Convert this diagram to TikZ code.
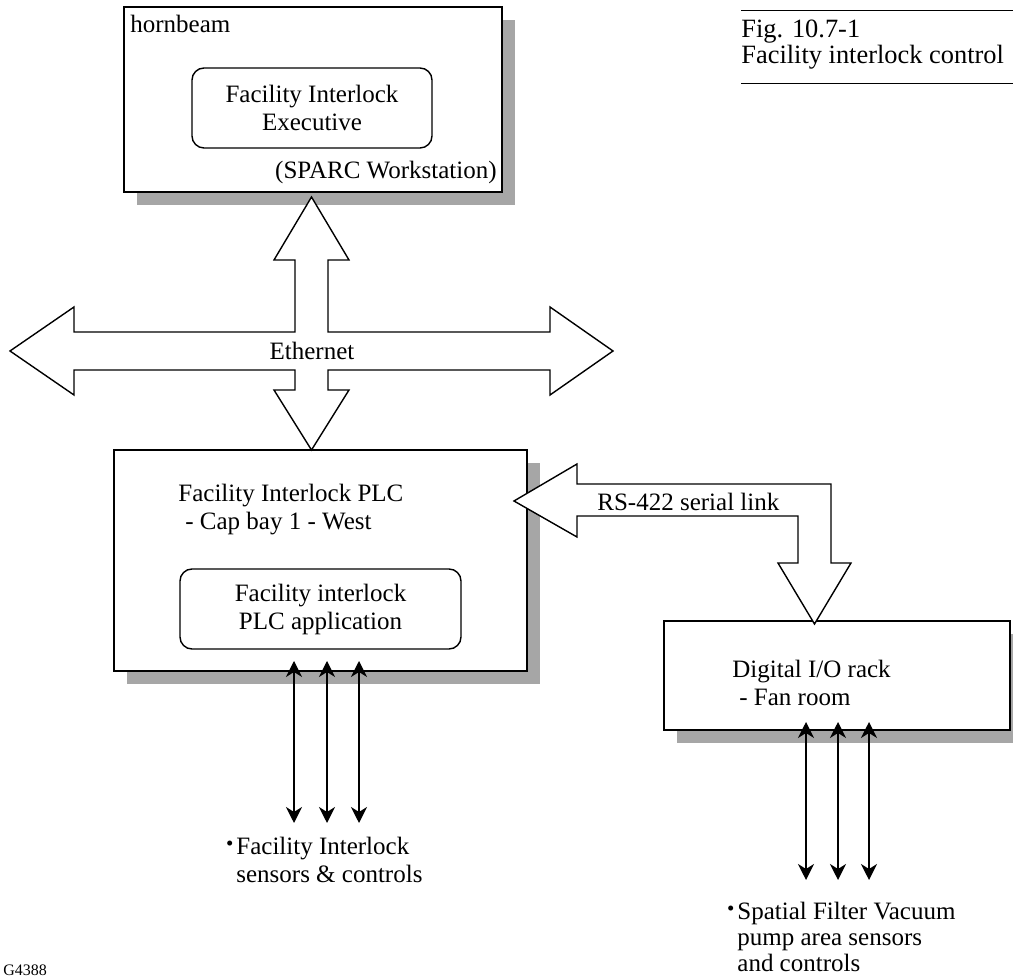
\documentclass[tikz,border=0pt]{standalone}
\usepackage{fontspec}
\setmainfont{Liberation Serif}
\usetikzlibrary{arrows.meta,shadows}

\newcommand{\blt}{\leavevmode\llap{\raisebox{0.15em}{\fontsize{10.5}{10.5}\selectfont\textbullet}\hspace{1.5pt}}}

\begin{document}
\begin{tikzpicture}[x=0.5pt,y=-0.5pt,
	every node/.style={font=\fontsize{12.5}{14}\selectfont},
	box/.style={rectangle,draw,line width=0.7pt,fill=white,
		drop shadow={shadow xshift=6.5pt,shadow yshift=-6.5pt,fill=black!35,opacity=1}},
	rbox/.style={rectangle,draw,line width=0.7pt,rounded corners=6pt,align=center},
	lbl/.style={inner sep=0pt,align=left},
	fat/.style={draw,line width=0.7pt,fill=white},
	sig/.style={line width=0.7pt,>={Stealth[length=8pt,width=8pt,inset=2.5pt]},<->}]

		\useasboundingbox (0,0) rectangle (1013,977);

		% workstation
		\node[box,minimum width=189pt,minimum height=92.5pt] (host) at (313,99.5) {};
		\node[anchor=base west,inner sep=0pt] (hostname) at (130,33) {hornbeam};
		\node[rbox,minimum width=120pt,minimum height=40pt] (exec) at (312,108)
			{Facility Interlock\\Executive};
		\node[anchor=base east,inner sep=0pt] (sparc) at (497,179) {(SPARC Workstation)};

		% plc
		\node[box,minimum width=206.5pt,minimum height=110.5pt] (plc) at (320.5,560.5) {};
		\node[lbl,anchor=west] (plcname) at (178,510)
			{Facility Interlock PLC\\\hspace*{3.5pt}- Cap bay 1 - West};
		\node[rbox,minimum width=140.5pt,minimum height=40pt] (app) at (320.5,609)
			{Facility interlock\\PLC application};

		% remote rack
		\node[box,minimum width=173pt,minimum height=54.5pt] (rack) at (837,675.5) {};
		\node[lbl,anchor=west] (rackname) at (732,683)
			{Digital I/O rack\\\hspace*{3.5pt}- Fan room};

		% ethernet
		\draw[fat] (311.5,197) -- (349,260) -- (328,260) -- (328,332) -- (550,332)
			-- (550,307) -- (613,351) -- (550,395) -- (550,370) -- (328,370)
			-- (328,390) -- (349,390) -- (311.5,450) -- (274,390) -- (295,390)
			-- (295,370) -- (74,370) -- (74,395) -- (10,351) -- (74,307)
			-- (74,332) -- (295,332) -- (295,260) -- (274,260) -- cycle;
		\node (eth) at (312,351) {Ethernet};

		% serial link
		\draw[fat] (514,501) -- (577,464) -- (577,484) -- (831,484) -- (831,563)
			-- (851,563) -- (814.5,624) -- (778,563) -- (798,563) -- (798,516)
			-- (577,516) -- (577,537) -- cycle;
		\node[anchor=base west,inner sep=0pt] (rs) at (597,511) {RS-422 serial link};

		% field signals
		\node[lbl,anchor=west] (fi) at (236,860)
			{\blt Facility Interlock\\sensors \& controls};
		\node[lbl,anchor=west,font=\fontsize{12.5}{13}\selectfont] (sf) at (737,937)
			{\blt Spatial Filter Vacuum\\pump area sensors\\and controls};
		\foreach \x [count=\i] in {294,327,359} {
			\coordinate (pa\i) at (\x,661);
			\coordinate (pb\i) at (\x,823);
			\draw[sig] (pa\i) -- (pb\i);
		}
		\foreach \x [count=\i] in {806,838,869} {
			\coordinate (ra\i) at (\x,722);
			\coordinate (rb\i) at (\x,880);
			\draw[sig] (ra\i) -- (rb\i);
		}

		% caption
		\draw[line width=0.5pt] (741,11) -- (1013,11);
		\draw[line width=0.5pt] (741,84) -- (1013,84);
		\node[lbl,anchor=west,font=\fontsize{13.2}{13}\selectfont] (cap) at (741,45)
			{Fig. 10.7-1\\Facility interlock control};
		\node[anchor=base west,inner sep=0pt,font=\fontsize{8}{9}\selectfont] (gid) at (3,976) {G4388};

	\end{tikzpicture}
\end{document}
